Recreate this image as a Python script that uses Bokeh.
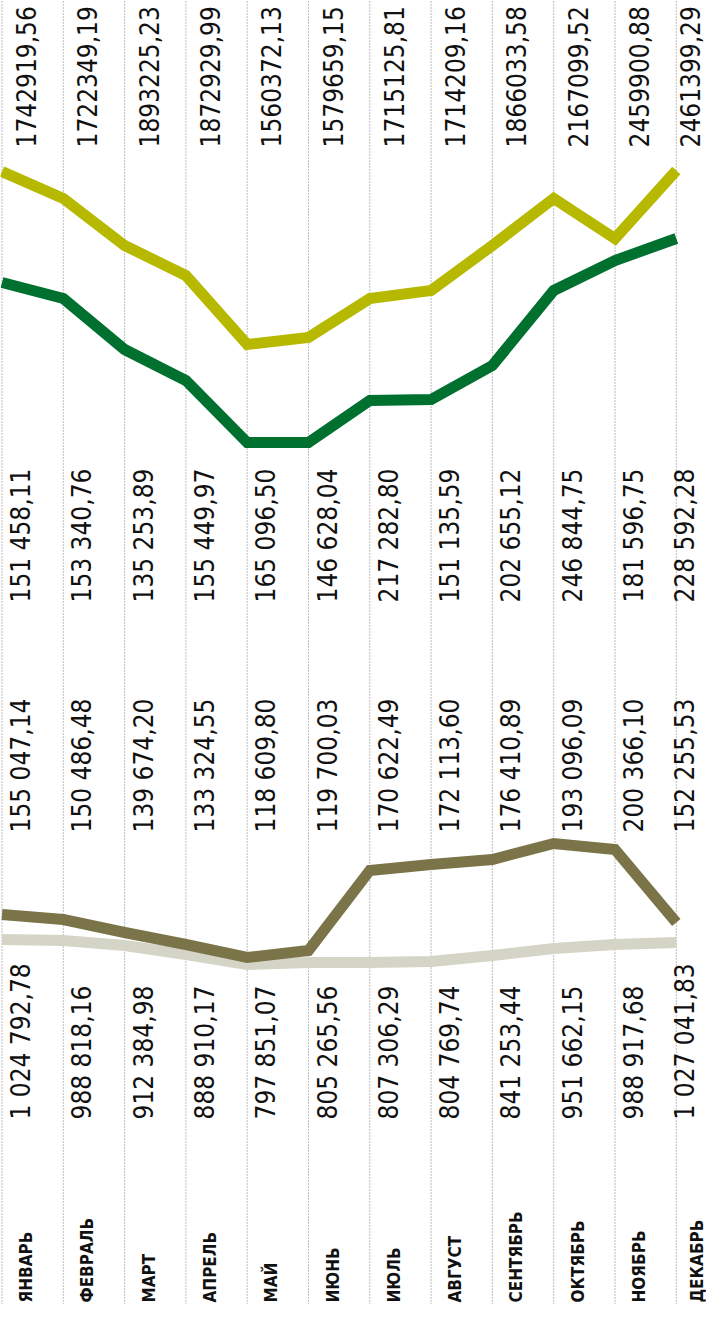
import numpy as np
from bokeh.plotting import figure
from bokeh.models import Range1d, ColumnDataSource
from bokeh.core.properties import value
from bokeh.embed import file_html
from bokeh.resources import INLINE

# ---------------- data ----------------
months = ["ЯНВАРЬ", "ФЕВРАЛЬ", "МАРТ", "АПРЕЛЬ", "МАЙ", "ИЮНЬ",
          "ИЮЛЬ", "АВГУСТ", "СЕНТЯБРЬ", "ОКТЯБРЬ", "НОЯБРЬ", "ДЕКАБРЬ"]

row1 = ["1742919,56", "1722349,19", "1893225,23", "1872929,99", "1560372,13", "1579659,15",
        "1715125,81", "1714209,16", "1866033,58", "2167099,52", "2459900,88", "2461399,29"]
row2 = ["151 458,11", "153 340,76", "135 253,89", "155 449,97", "165 096,50", "146 628,04",
        "217 282,80", "151 135,59", "202 655,12", "246 844,75", "181 596,75", "228 592,28"]
row3 = ["155 047,14", "150 486,48", "139 674,20", "133 324,55", "118 609,80", "119 700,03",
        "170 622,49", "172 113,60", "176 410,89", "193 096,09", "200 366,10", "152 255,53"]
row4 = ["1 024 792,78", "988 818,16", "912 384,98", "888 910,17", "797 851,07", "805 265,56",
        "807 306,29", "804 769,74", "841 253,44", "951 662,15", "988 917,68", "1 027 041,83"]

# line levels (chart units, higher = up)
yellow = [1133, 1106, 1059, 1029, 960, 967, 1006, 1014, 1059, 1106, 1066, 1134]
green = [1022, 1006, 955, 924, 862, 862, 904, 905, 939, 1014, 1044, 1066]
olive = [390, 385, 372, 360, 347, 354, 434, 440, 445, 461, 455, 382]
grey = [365, 364, 359, 350, 340, 342, 342, 343, 349, 356, 360, 362]

# ---------------- layout ----------------
W, H = 706, 1304
col = 61.3
x0 = -1.5 / col
xmax = x0 + W / col

x = list(range(len(months)))

p = figure(width=W, height=H, output_backend="svg", toolbar_location=None,
           x_range=Range1d(x0, xmax), y_range=Range1d(0, H),
           min_border=0, outline_line_color=None, background_fill_color="white",
           border_fill_color="white")
p.axis.visible = False
p.grid.visible = False

# dotted column separators
p.segment(x0=x, y0=[0] * len(x), x1=x, y1=[H] * len(x),
          line_color="#7a7a7a", line_width=1, line_dash="1 2")

# lines
p.line(x, grey, line_color="#d4d4c7", line_width=11, line_join="miter", line_cap="butt")
p.line(x, olive, line_color="#7a7448", line_width=11, line_join="miter", line_cap="butt")
p.line(x, green, line_color="#00702f", line_width=11, line_join="miter", line_cap="butt")
p.line(x, yellow, line_color="#b6b900", line_width=11, line_join="miter", line_cap="butt")

num_font = value("'DejaVu Sans Condensed', 'DejaVu Sans', sans-serif")
lim = xmax - 7 / col
xv = [min(i + 34 / col, lim) for i in x]
for rows, yb in ((row1, 1157), (row2, 702), (row3, 472), (row4, 185)):
    src = ColumnDataSource(dict(x=xv, y=[yb] * len(x), t=rows))
    p.text(x="x", y="y", text="t", source=src, angle=np.pi / 2,
           text_align="left", text_baseline="bottom",
           text_font=num_font, text_font_size="26px", text_color="#111111")

lim_l = xmax - 10 / col
xl = [min(i + 24 / col, lim_l) for i in x]
src = ColumnDataSource(dict(x=xl, y=[2] * len(x), t=months))
p.text(x="x", y="y", text="t", source=src, angle=np.pi / 2,
       text_align="left", text_baseline="alphabetic",
       text_font=num_font, text_font_style="bold",
       text_font_size="17px", text_color="#111111")

open("out.html", "w").write(file_html(p, INLINE))
